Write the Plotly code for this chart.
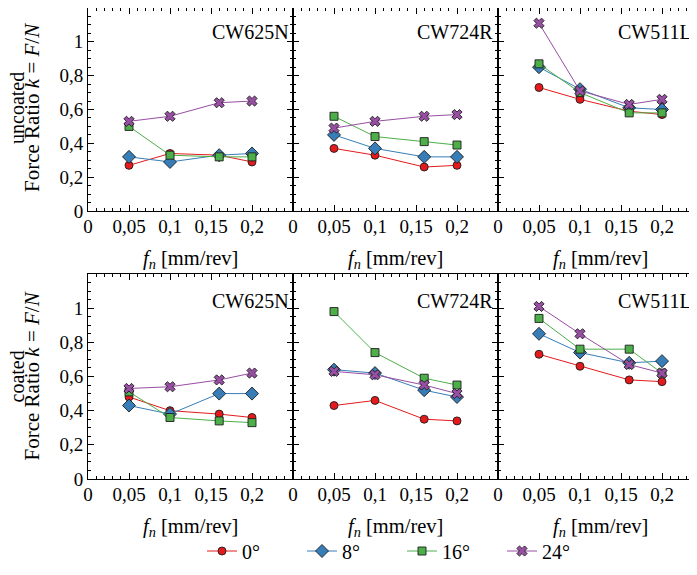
import plotly.graph_objects as go

W, H = 697, 575
OFF = 8  # browser body margin

feed = [0.05, 0.1, 0.16, 0.2]
angles = ["0°", "8°", "16°", "24°"]
tools = ["CW625N", "CW724R", "CW511L"]
rows = ["uncoated", "coated"]

unc_CW625N = {"0°": [0.27, 0.34, 0.33, 0.29], "8°": [0.32, 0.29, 0.33, 0.34],
              "16°": [0.50, 0.33, 0.32, 0.32], "24°": [0.53, 0.56, 0.64, 0.65]}
unc_CW724R = {"0°": [0.37, 0.33, 0.26, 0.27], "8°": [0.45, 0.37, 0.32, 0.32],
              "16°": [0.56, 0.44, 0.41, 0.39], "24°": [0.49, 0.53, 0.56, 0.57]}
unc_CW511L = {"0°": [0.73, 0.66, 0.59, 0.57], "8°": [0.85, 0.72, 0.61, 0.60],
              "16°": [0.87, 0.70, 0.58, 0.58], "24°": [1.11, 0.71, 0.63, 0.66]}
coa_CW625N = {"0°": [0.48, 0.40, 0.38, 0.36], "8°": [0.43, 0.38, 0.50, 0.50],
              "16°": [0.51, 0.36, 0.34, 0.33], "24°": [0.53, 0.54, 0.58, 0.62]}
coa_CW724R = {"0°": [0.43, 0.46, 0.35, 0.34], "8°": [0.64, 0.62, 0.52, 0.48],
              "16°": [0.98, 0.74, 0.59, 0.55], "24°": [0.63, 0.61, 0.55, 0.50]}
coa_CW511L = {"0°": [0.73, 0.66, 0.58, 0.57], "8°": [0.85, 0.74, 0.68, 0.69],
              "16°": [0.94, 0.76, 0.76, 0.62], "24°": [1.01, 0.85, 0.67, 0.62]}

panels = [unc_CW625N, unc_CW724R, unc_CW511L, coa_CW625N, coa_CW724R, coa_CW511L]

x_tickvals = [0, 0.05, 0.1, 0.15, 0.2, 0.25]
x_ticktext = ["0", "0,05", "0,1", "0,15", "0,2", ""]
y_tickvals = [0, 0.2, 0.4, 0.6, 0.8, 1.0]
y_ticktext = ["0", "0,2", "0,4", "0,6", "0,8", "1"]

styles = {
    "0°": dict(color="#e41a1c", symbol="circle", size=8),
    "8°": dict(color="#377eb8", symbol="diamond", size=10),
    "16°": dict(color="#4daf4a", symbol="square", size=8),
    "24°": dict(color="#984ea3", symbol="x", size=9),
}

FONT = "Liberation Serif"

col_px = [(88 - OFF, 293 - OFF), (293 - OFF, 498 - OFF), (498 - OFF, 703 - OFF)]
row_px = [(5 - OFF, 211 - OFF), (274 - OFF, 479 - OFF)]

fig = go.Figure()

layout = dict(
    width=W, height=H,
    margin=dict(l=0, r=0, t=0, b=0, autoexpand=False),
    paper_bgcolor="white", plot_bgcolor="white",
    font=dict(family=FONT, size=19, color="black"),
    showlegend=True,
)

for i, data in enumerate(panels):
    r, c = divmod(i, 3)
    idx = i + 1
    xn = "x" if idx == 1 else f"x{idx}"
    yn = "y" if idx == 1 else f"y{idx}"
    for a in angles:
        st = styles[a]
        fig.add_trace(go.Scatter(
            x=feed, y=data[a], xaxis=xn, yaxis=yn, mode="lines+markers",
            name=a, showlegend=(i == 0), legendgroup=a,
            line=dict(color=st["color"], width=1),
            marker=dict(color=st["color"], symbol=st["symbol"], size=st["size"],
                        line=dict(color="rgba(30,30,30,0.9)", width=1)),
        ))
    x0, x1 = col_px[c]
    y0, y1 = row_px[r]
    common = dict(showline=True, linecolor="black", linewidth=1, mirror="ticks",
                  ticks="inside", ticklen=6, tickcolor="black", tickwidth=1,
                  showgrid=False, zeroline=False)
    layout["xaxis" if idx == 1 else f"xaxis{idx}"] = dict(
        domain=[max(x0, 0) / W, x1 / W], range=[0, 0.25], anchor=yn,
        tickmode="array", tickvals=x_tickvals, ticktext=x_ticktext,
        minor=dict(tickmode="linear", tick0=0, dtick=0.01, ticks="inside",
                   ticklen=3, tickcolor="black", tickwidth=1),
        ticklabelstandoff=-2,
        tickfont=dict(family=FONT, size=19, color="black"), **common)
    layout["yaxis" if idx == 1 else f"yaxis{idx}"] = dict(
        domain=[(H - y1) / H, min(H - y0, H) / H], range=[0, 1.2], anchor=xn,
        tickmode="array", tickvals=y_tickvals,
        ticktext=y_ticktext if c == 0 else [" "] * len(y_tickvals),
        showticklabels=(c == 0),
        minor=dict(tickmode="linear", tick0=0, dtick=0.05, ticks="inside",
                   ticklen=3, tickcolor="black", tickwidth=1),
        ticklabelstandoff=0,
        tickfont=dict(family=FONT, size=19, color="black"), **common)

annotations = []
title_right = [291 - OFF, 495 - OFF, 694 - OFF]
for r in range(2):
    y0, y1 = row_px[r]
    for c in range(3):
        annotations.append(dict(
            text=tools[c], xref="paper", yref="paper",
            x=title_right[c] / W, y=(H - (y0 + 27)) / H,
            xanchor="right", yanchor="middle", showarrow=False,
            font=dict(family=FONT, size=20, color="black")))
        x0, x1 = col_px[c]
        cx = (x0 + x1) / 2
        annotations.append(dict(
            text="<i>f</i><sub><i>n</i></sub> [mm/rev]", xref="paper", yref="paper",
            x=cx / W, y=(H - (y1 + 48)) / H,
            xanchor="center", yanchor="middle", showarrow=False,
            font=dict(family=FONT, size=20.5, color="black")))
    yc = (H - (y0 + y1) / 2) / H
    annotations.append(dict(
        text=rows[r], xref="paper", yref="paper", x=(17 - OFF) / W, y=yc,
        xanchor="center", yanchor="middle", textangle=-90, showarrow=False,
        font=dict(family=FONT, size=20, color="black")))
    annotations.append(dict(
        text="Force Ratio <i>k</i> = <i>F</i>/<i>N</i>", xref="paper", yref="paper",
        x=(32 - OFF) / W, y=yc, xanchor="center", yanchor="middle", textangle=-90,
        showarrow=False, font=dict(family=FONT, size=21, color="black")))

layout["annotations"] = annotations
layout["legend"] = dict(
    orientation="h", x=(202 - OFF) / W, y=(H - (551 - OFF)) / H, xanchor="left", yanchor="middle",
    entrywidth=55, entrywidthmode="pixels",
    font=dict(family=FONT, size=20, color="black"),
    bgcolor="rgba(0,0,0,0)", itemclick=False, tracegroupgap=0,
)

fig.update_layout(**layout)
fig.write_html("out.html")
